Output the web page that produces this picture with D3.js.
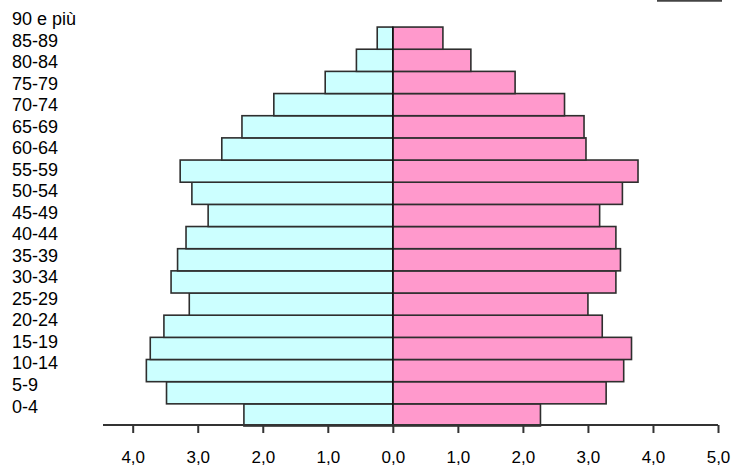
<!DOCTYPE html>
<html>
<head>
<meta charset="utf-8">
<script src="https://cdn.jsdelivr.net/npm/d3@7"></script>
<style>
  html, body { margin: 0; padding: 0; background: #ffffff; }
  svg { display: block; }
  text { font-family: "Liberation Sans", Arial, sans-serif; fill: #000; }
</style>
</head>
<body>
<svg id="chart" width="736" height="468"></svg>
<script>
// Age classes, bottom to top
const ageGroups = ["0-4","5-9","10-14","15-19","20-24","25-29","30-34","35-39","40-44","45-49",
                   "50-54","55-59","60-64","65-69","70-74","75-79","80-84","85-89","90 e più"];
// Percent of population, males (left) and females (right)
const maschi  = [2.29,3.48,3.79,3.73,3.52,3.13,3.41,3.31,3.18,2.84,3.09,3.27,2.63,2.32,1.83,1.04,0.56,0.24,0];
const femmine = [2.27,3.28,3.55,3.67,3.22,3.00,3.43,3.50,3.43,3.18,3.53,3.77,2.97,2.94,2.64,1.88,1.20,0.77,0];
// Axis ticks
const tickValues = [-4,-3,-2,-1,0,1,2,3,4,5];
const tickLabels = ["4,0","3,0","2,0","1,0","0,0","1,0","2,0","3,0","4,0","5,0"];

const svg = d3.select("#chart");

const x = d3.scaleLinear().domain([-4, 5]).range([132.7, 718]);
const y = d3.scaleBand().domain(ageGroups).range([426, 4.9]).padding(0);
// Category labels are laid out on their own slightly tighter grid
const yLab = d3.scalePoint().domain(ageGroups).range([412.5, 25]);

const rows = ageGroups.map((g, i) => ({ g, m: maschi[i], f: femmine[i] }));

const stroke = "#2e2e2e";

// Male bars
svg.append("g").selectAll("rect")
  .data(rows.filter(d => d.m > 0))
  .join("rect")
  .attr("x", d => x(-d.m))
  .attr("y", d => y(d.g))
  .attr("width", d => x(0) - x(-d.m))
  .attr("height", y.bandwidth())
  .attr("fill", "#ccffff")
  .attr("stroke", stroke)
  .attr("stroke-width", 1.6);

// Female bars
svg.append("g").selectAll("rect")
  .data(rows.filter(d => d.f > 0))
  .join("rect")
  .attr("x", x(0))
  .attr("y", d => y(d.g))
  .attr("width", d => x(d.f) - x(0))
  .attr("height", y.bandwidth())
  .attr("fill", "#ff99cc")
  .attr("stroke", stroke)
  .attr("stroke-width", 1.6);

// Center line
const topBar = rows.filter(d => d.m > 0 || d.f > 0).map(d => y(d.g));
svg.append("line")
  .attr("x1", x(0)).attr("x2", x(0))
  .attr("y1", d3.min(topBar)).attr("y2", 425)
  .attr("stroke", "#111").attr("stroke-width", 1.6);

// Age labels
svg.append("g").selectAll("text")
  .data(ageGroups)
  .join("text")
  .attr("x", 12)
  .attr("y", d => yLab(d))
  .attr("font-size", 18)
  .text(d => d);

// X axis
const axisG = svg.append("g").attr("transform", "translate(0,425)");
axisG.append("line")
  .attr("x1", 103).attr("x2", x(5))
  .attr("y1", 0).attr("y2", 0)
  .attr("stroke", "#333").attr("stroke-width", 2);
const axis = d3.axisBottom(x)
  .tickValues(tickValues)
  .tickSize(8)
  .tickSizeOuter(0)
  .tickPadding(18)
  .tickFormat((d, i) => tickLabels[i]);
const ax = axisG.append("g").call(axis);
ax.select(".domain").remove();
ax.selectAll(".tick line").attr("stroke", "#333").attr("stroke-width", 2);
ax.selectAll(".tick text")
  .attr("font-size", 17)
  .attr("font-family", "'Liberation Sans', Arial, sans-serif")
  .attr("fill", "#222");

// Clipped legend box edge at top right
svg.append("line")
  .attr("x1", 657).attr("x2", 722)
  .attr("y1", 0.8).attr("y2", 0.8)
  .attr("stroke", "#444").attr("stroke-width", 1.8);
</script>
</body>
</html>
